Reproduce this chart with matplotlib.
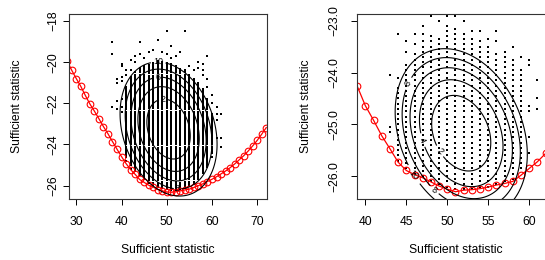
import numpy as np
import matplotlib.pyplot as plt

plt.rcParams['font.family'] = ['Liberation Sans', 'DejaVu Sans']
plt.rcParams['font.size'] = 8.7

# ---- left panel data ----
left_col_x = [41, 42, 43, 44, 45, 46, 47, 48, 49, 50, 51, 52, 53, 54, 55, 56, 57, 58, 59, 60]
left_col_top = [-21.2, -20.7, -20.5, -20.3, -20.2, -20.1, -20.0, -19.9, -20.0, -20.0,
                -20.1, -20.2, -20.3, -20.4, -20.6, -20.8, -21.0, -21.3, -21.8, -22.5]
left_col_bottom = [-24.6, -25.0, -25.3, -25.5, -25.7, -25.85, -25.95, -26.05, -26.1, -26.15,
                   -26.2, -26.2, -26.15, -26.1, -26.0, -25.9, -25.7, -25.4, -25.0, -24.4]
left_extra_x = [50, 54, 38, 44, 48, 51, 38, 46, 43, 44, 53, 59, 47, 49, 50, 51, 52, 45, 42, 43,
                57, 58, 57, 58, 58, 55, 56, 40, 40, 39, 39, 40, 40, 41, 41, 42, 39, 39, 38, 40,
                40, 40, 59, 59, 60, 60, 61, 61, 62, 61, 61, 62, 62, 60, 59, 41, 42]
left_extra_y = [-18.5, -18.5, -19.0, -19.0, -18.9, -19.2, -19.6, -19.5, -19.7, -19.6, -19.5, -19.7,
                -19.4, -19.5, -19.6, -19.8, -19.7, -19.8, -19.9, -20.0, -20.0, -20.1, -20.3, -20.4,
                -20.6, -20.2, -20.4, -20.1, -20.2, -20.8, -21.0, -20.7, -20.9, -20.6, -20.4, -20.4,
                -21.9, -22.3, -22.2, -21.8, -22.2, -22.4, -20.8, -21.2, -21.6, -22.0, -22.2, -22.5,
                -22.5, -22.8, -23.7, -23.7, -24.1, -24.6, -25.1, -24.8, -25.2]
left_curve_x = list(range(28, 73))
left_curve_y = [-19.95, -20.40, -20.80, -21.18, -21.62, -22.03, -22.38, -22.75, -23.13, -23.48,
                -23.86, -24.23, -24.59, -24.93, -25.22, -25.45, -25.70, -25.84, -25.98, -26.07,
                -26.19, -26.25, -26.31, -26.32, -26.30, -26.25, -26.21, -26.17, -26.09, -26.00,
                -25.91, -25.80, -25.69, -25.57, -25.43, -25.29, -25.13, -24.95, -24.75, -24.55,
                -24.32, -24.07, -23.80, -23.50, -23.18]
left_center = [50.4, -23.25]
left_cov = [[11.5, -0.8], [-0.8, 1.06]]
left_label_pos = [(48.1, -20.06), (48.1, -20.8), (49.2, -21.84), (52.3, -26.15)]

# ---- right panel data ----
right_col_x = [44, 45, 46, 47, 48, 49, 50, 51, 52, 53, 54, 55, 56, 57, 58, 59]
right_col_top = [-24.3, -23.8, -23.6, -23.4, -23.3, -23.3, -23.1, -23.1, -23.2, -23.3,
                 -23.4, -23.5, -23.6, -23.7, -23.7, -23.9]
right_col_bottom = [-25.7, -25.85, -25.95, -26.0, -26.1, -26.15, -26.2, -26.25, -26.25, -26.25,
                    -26.2, -26.2, -26.15, -26.1, -26.05, -25.85]
right_extra_x = [43, 43, 43, 44, 44, 45, 45, 46, 46, 47, 47, 48, 49, 50, 51, 52, 53, 54, 55,
                 56, 56, 57, 58, 59, 60, 60, 60, 60, 60, 60, 61, 61, 61, 62, 62]
right_extra_y = [-24.05, -25.05, -25.15, -23.25, -24.1, -23.4, -23.6, -23.25, -23.45, -23.1,
                 -23.25, -22.9, -23.0, -22.9, -22.9, -23.0, -23.2, -23.2, -23.35, -23.2, -23.4,
                 -23.6, -23.5, -23.7, -23.75, -23.85, -24.65, -24.75, -25.25, -25.55, -24.15,
                 -24.5, -24.7, -24.2, -24.9]
right_curve_x = list(range(38, 64))
right_curve_y = [-23.87, -24.26, -24.64, -24.92, -25.22, -25.47, -25.73, -25.89, -25.97, -26.03,
                 -26.11, -26.19, -26.25, -26.30, -26.27, -26.26, -26.24, -26.21, -26.17, -26.14,
                 -26.10, -25.98, -25.85, -25.72, -25.56, -25.38]
right_center = [51.7, -25.17]
right_cov = [[6.5, -0.33], [-0.33, 0.266]]
right_label_pos = [(44.9, -24.15), (46.65, -25.34), (48.9, -25.56), (46.1, -25.93), (48.6, -26.2)]

levels = [2, 4, 6, 8, 10]
lattice_step = 0.1


def lattice_points(cols_x, tops, bottoms, extra_x, extra_y):
    px, py = [], []
    for x, t, b in zip(cols_x, tops, bottoms):
        ys = np.arange(b, t + 1e-9, lattice_step)
        px.extend([x] * len(ys))
        py.extend(ys)
    px.extend(extra_x)
    py.extend(extra_y)
    return np.array(px), np.array(py)


def draw_panel(ax, pts, curve_x, curve_y, center, cov, label_pos, xlim, ylim):
    ax.scatter(pts[0], pts[1], s=1.6, marker='s', c='black', linewidths=0, zorder=1)
    ax.plot(curve_x, curve_y, color='red', lw=0.9, marker='o', ms=4.8,
            mfc='none', mec='red', mew=0.8, zorder=2)
    gx, gy = np.meshgrid(np.linspace(xlim[0] - 5, xlim[1] + 5, 400),
                         np.linspace(ylim[0] - 2, ylim[1] + 2, 400))
    inv = np.linalg.inv(np.array(cov))
    dx, dy = gx - center[0], gy - center[1]
    q = inv[0, 0] * dx * dx + 2 * inv[0, 1] * dx * dy + inv[1, 1] * dy * dy
    cs = ax.contour(gx, gy, q, levels=levels, colors='black', linewidths=0.8, zorder=3)
    ax.clabel(cs, fmt='%d', fontsize=6.5, inline=True, inline_spacing=1, manual=label_pos)
    ax.set_xlim(xlim)
    ax.set_ylim(ylim)
    ax.set_xlabel('Sufficient statistic')
    ax.set_ylabel('Sufficient statistic')
    ax.tick_params(direction='out', length=4.3, width=0.7)
    plt.setp(ax.get_yticklabels(), rotation=90, va='center')
    for s in ax.spines.values():
        s.set_linewidth(0.8)
        s.set_color('#333333')


fig = plt.figure(figsize=(5.45, 2.6), dpi=100)
ax1 = fig.add_axes([69.3 / 545, 61 / 260, 197.4 / 545, 185 / 260])
ax2 = fig.add_axes([357 / 545, 61 / 260, 197.4 / 545, 185 / 260])

draw_panel(ax1, lattice_points(left_col_x, left_col_top, left_col_bottom, left_extra_x, left_extra_y),
           left_curve_x, left_curve_y, left_center, left_cov, left_label_pos,
           (28.45, 72.1), (-26.65, -17.66))
ax1.set_xticks([30, 40, 50, 60, 70])
ax1.set_yticks([-18, -20, -22, -24, -26])
ax1.tick_params(axis='x', pad=8)
ax1.tick_params(axis='y', pad=2.5)

draw_panel(ax2, lattice_points(right_col_x, right_col_top, right_col_bottom, right_extra_x, right_extra_y),
           right_curve_x, right_curve_y, right_center, right_cov, right_label_pos,
           (38.98, 63.07), (-26.44, -22.87))
ax2.set_xticks([40, 45, 50, 55, 60])
ax2.set_yticks([-23, -24, -25, -26])
ax2.set_yticklabels(['\u221223.0', '\u221224.0', '\u221225.0', '\u221226.0'], rotation=90, va='center')
ax2.tick_params(axis='x', pad=8)
ax2.tick_params(axis='y', pad=7.5)

for ax in (ax1, ax2):
    ax.xaxis.set_label_coords(0.5, -45 / 185)
ax1.yaxis.set_label_coords(-46.3 / 197.4, 0.5)
ax2.yaxis.set_label_coords(-45 / 197.4, 0.5)

fig.savefig('out.png', dpi=100)
